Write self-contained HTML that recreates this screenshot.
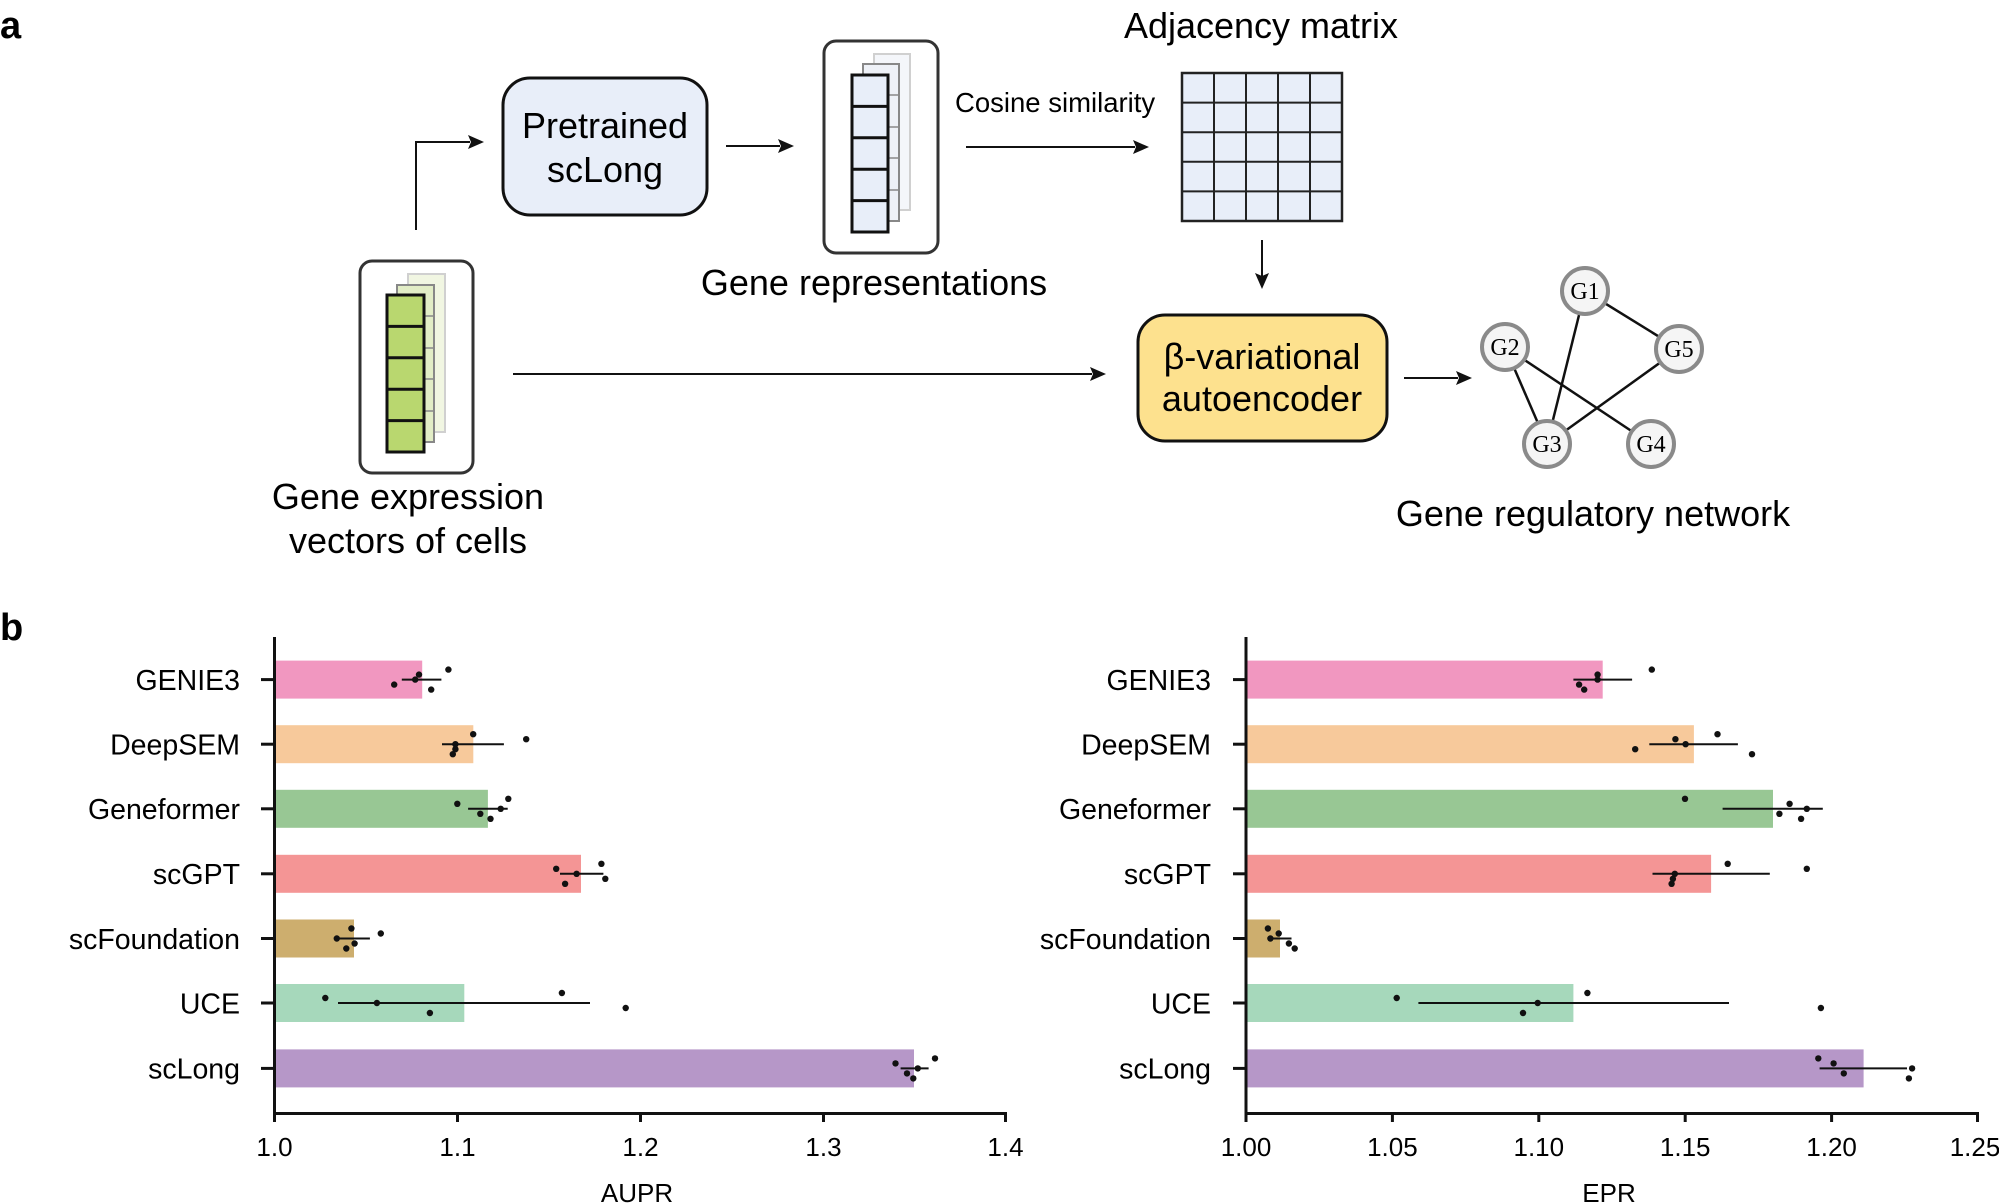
<!DOCTYPE html>
<html><head><meta charset="utf-8"><style>
html,body{margin:0;padding:0;background:#fff;overflow:hidden;}
svg{display:block;font-family:"Liberation Sans",Arial,sans-serif;}
</style></head><body>
<svg width="1999" height="1203" viewBox="0 0 1999 1203" xmlns="http://www.w3.org/2000/svg">
<rect width="1999" height="1203" fill="#fff"/>
<text x="0" y="38" font-size="38" font-weight="bold">a</text>
<text x="0" y="640" font-size="38" font-weight="bold">b</text>

<rect x="360" y="261" width="113" height="212" rx="12" fill="#fff" stroke="#333" stroke-width="3"/>
<rect x="408" y="274" width="37" height="158" fill="#f1f6e2" stroke="#d0d0d0" stroke-width="2"/>
<rect x="397" y="285" width="37" height="157" fill="#e2edc6" stroke="#888" stroke-width="2"/>
<g stroke="#888" stroke-width="1.5"><line x1="397" y1="316" x2="434" y2="316"/><line x1="397" y1="348" x2="434" y2="348"/><line x1="397" y1="379" x2="434" y2="379"/><line x1="397" y1="411" x2="434" y2="411"/></g>
<rect x="387" y="295" width="37" height="157" fill="#b9d76f" stroke="#111" stroke-width="3"/>
<g stroke="#111" stroke-width="3"><line x1="387" y1="326.4" x2="424" y2="326.4"/><line x1="387" y1="357.8" x2="424" y2="357.8"/><line x1="387" y1="389.2" x2="424" y2="389.2"/><line x1="387" y1="420.6" x2="424" y2="420.6"/></g>
<text x="408" y="509" font-size="36" text-anchor="middle">Gene expression</text>
<text x="408" y="553" font-size="36" text-anchor="middle">vectors of cells</text>

<polyline points="416,230 416,142 470,142" fill="none" stroke="#111" stroke-width="2"/>
<polygon points="484,142 468,135 471,142 468,149" fill="#111"/>

<rect x="503" y="78" width="204" height="137" rx="27" fill="#e8eef9" stroke="#111" stroke-width="3"/>
<text x="605" y="138" font-size="36" text-anchor="middle">Pretrained</text>
<text x="605" y="182" font-size="36" text-anchor="middle">scLong</text>

<line x1="726" y1="146" x2="780" y2="146" stroke="#111" stroke-width="2"/>
<polygon points="794,146 778,139 781,146 778,153" fill="#111"/>

<rect x="824" y="41" width="114" height="212" rx="12" fill="#fff" stroke="#333" stroke-width="3"/>
<rect x="874" y="54" width="36" height="156" fill="#f4f6fa" stroke="#d0d0d0" stroke-width="2"/>
<rect x="863" y="64" width="36" height="157" fill="#eef1f7" stroke="#888" stroke-width="2"/>
<g stroke="#888" stroke-width="1.5"><line x1="863" y1="95" x2="899" y2="95"/><line x1="863" y1="127" x2="899" y2="127"/><line x1="863" y1="158" x2="899" y2="158"/><line x1="863" y1="190" x2="899" y2="190"/></g>
<rect x="852" y="75" width="36" height="157" fill="#e8eef9" stroke="#111" stroke-width="3"/>
<g stroke="#111" stroke-width="3"><line x1="852" y1="106.4" x2="888" y2="106.4"/><line x1="852" y1="137.8" x2="888" y2="137.8"/><line x1="852" y1="169.2" x2="888" y2="169.2"/><line x1="852" y1="200.6" x2="888" y2="200.6"/></g>
<text x="874" y="295" font-size="36" text-anchor="middle">Gene representations</text>

<text x="955" y="112" font-size="27.5">Cosine similarity</text>
<line x1="966" y1="147" x2="1135" y2="147" stroke="#111" stroke-width="2"/>
<polygon points="1149,147 1133,140 1136,147 1133,154" fill="#111"/>

<line x1="513" y1="374" x2="1092" y2="374" stroke="#111" stroke-width="2"/>
<polygon points="1106,374 1090,367 1093,374 1090,381" fill="#111"/>

<text x="1261" y="38" font-size="36" text-anchor="middle">Adjacency matrix</text>
<rect x="1182" y="73" width="160" height="148" fill="#e8eef9" stroke="#222" stroke-width="2.5"/>
<g stroke="#222" stroke-width="2">
  <line x1="1214" y1="73" x2="1214" y2="221"/><line x1="1246" y1="73" x2="1246" y2="221"/><line x1="1278" y1="73" x2="1278" y2="221"/><line x1="1310" y1="73" x2="1310" y2="221"/>
  <line x1="1182" y1="102.6" x2="1342" y2="102.6"/><line x1="1182" y1="132.2" x2="1342" y2="132.2"/><line x1="1182" y1="161.8" x2="1342" y2="161.8"/><line x1="1182" y1="191.4" x2="1342" y2="191.4"/>
</g>
<line x1="1262" y1="240" x2="1262" y2="276" stroke="#111" stroke-width="2"/>
<polygon points="1262,289 1255,273 1262,276 1269,273" fill="#111"/>

<rect x="1138" y="315" width="249" height="126" rx="27" fill="#fde18e" stroke="#111" stroke-width="3"/>
<text x="1262" y="369" font-size="36" text-anchor="middle">β-variational</text>
<text x="1262" y="411" font-size="36" text-anchor="middle">autoencoder</text>

<line x1="1404" y1="378" x2="1458" y2="378" stroke="#111" stroke-width="2"/>
<polygon points="1472,378 1456,371 1459,378 1456,385" fill="#111"/>

<g stroke="#111" stroke-width="2.5">
  <line x1="1585" y1="291" x2="1679" y2="349"/>
  <line x1="1585" y1="291" x2="1547" y2="444"/>
  <line x1="1505" y1="347" x2="1547" y2="444"/>
  <line x1="1505" y1="347" x2="1651" y2="444"/>
  <line x1="1679" y1="349" x2="1547" y2="444"/>
</g>
<g fill="#f5f5f5" stroke="#8a8a8a" stroke-width="4">
  <circle cx="1585" cy="291" r="23"/><circle cx="1505" cy="347" r="23"/><circle cx="1679" cy="349" r="23"/><circle cx="1547" cy="444" r="23"/><circle cx="1651" cy="444" r="23"/>
</g>
<g font-family="Liberation Serif,serif" font-size="24" text-anchor="middle">
  <text x="1585" y="299">G1</text><text x="1505" y="355">G2</text><text x="1679" y="357">G5</text><text x="1547" y="452">G3</text><text x="1651" y="452">G4</text>
</g>
<text x="1593" y="526" font-size="36" text-anchor="middle">Gene regulatory network</text>

<!-- LEFT CHART -->
<g>
  <rect x="275" y="660.6" width="147.2" height="38" fill="#f197c0"/>
  <rect x="275" y="725.2" width="198.3" height="38" fill="#f7c99b"/>
  <rect x="275" y="789.8" width="212.9" height="38" fill="#98c794"/>
  <rect x="275" y="854.8" width="306" height="38" fill="#f49595"/>
  <rect x="275" y="919.5" width="79" height="38" fill="#cdae6e"/>
  <rect x="275" y="984" width="189.3" height="38" fill="#a6d8bb"/>
  <rect x="275" y="1049.4" width="639" height="38" fill="#b697c8"/>
</g>
<g stroke="#111" stroke-width="3" fill="none">
  <polyline points="274.5,637 274.5,1113.5 1007,1113.5"/>
  <line x1="274.5" y1="1113" x2="274.5" y2="1122"/><line x1="457.5" y1="1113" x2="457.5" y2="1122"/><line x1="640.5" y1="1113" x2="640.5" y2="1122"/><line x1="823.5" y1="1113" x2="823.5" y2="1122"/><line x1="1005.5" y1="1113" x2="1005.5" y2="1122"/>
  <line x1="261" y1="679.6" x2="274" y2="679.6"/><line x1="261" y1="744.2" x2="274" y2="744.2"/><line x1="261" y1="808.8" x2="274" y2="808.8"/><line x1="261" y1="873.8" x2="274" y2="873.8"/><line x1="261" y1="938.5" x2="274" y2="938.5"/><line x1="261" y1="1003" x2="274" y2="1003"/><line x1="261" y1="1068.4" x2="274" y2="1068.4"/>
</g>
<g font-size="28.5" text-anchor="end">
  <text x="240" y="690">GENIE3</text><text x="240" y="754.5">DeepSEM</text><text x="240" y="819">Geneformer</text><text x="240" y="884">scGPT</text><text x="240" y="949">scFoundation</text><text x="240" y="1013.5">UCE</text><text x="240" y="1078.5">scLong</text>
</g>
<g font-size="26" text-anchor="middle">
  <text x="274.5" y="1156">1.0</text><text x="457.5" y="1156">1.1</text><text x="640.5" y="1156">1.2</text><text x="823.5" y="1156">1.3</text><text x="1005.5" y="1156">1.4</text>
  <text x="637" y="1202">AUPR</text>
</g>
<g stroke="#111" stroke-width="2">
  <line x1="401.8" y1="679.6" x2="441.4" y2="679.6"/>
  <line x1="442" y1="744.2" x2="503.9" y2="744.2"/>
  <line x1="468.1" y1="808.8" x2="507.7" y2="808.8"/>
  <line x1="560" y1="873.8" x2="603.4" y2="873.8"/>
  <line x1="336.8" y1="938.5" x2="369.9" y2="938.5"/>
  <line x1="338" y1="1003" x2="590" y2="1003"/>
  <line x1="900.6" y1="1068.4" x2="928.6" y2="1068.4"/>
</g>
<g fill="#111">
  <circle cx="448.4" cy="669.6" r="3.2"/><circle cx="419" cy="674.6" r="3.2"/><circle cx="415.2" cy="679.6" r="3.2"/><circle cx="394.2" cy="684.6" r="3.2"/><circle cx="431.2" cy="689.6" r="3.2"/>
  <circle cx="473.2" cy="734.2" r="3.2"/><circle cx="526.2" cy="739.2" r="3.2"/><circle cx="455.4" cy="744.2" r="3.2"/><circle cx="455.4" cy="749.2" r="3.2"/><circle cx="452.8" cy="754.2" r="3.2"/>
  <circle cx="508.3" cy="798.8" r="3.2"/><circle cx="457.3" cy="803.8" r="3.2"/><circle cx="500.7" cy="808.8" r="3.2"/><circle cx="480.3" cy="813.8" r="3.2"/><circle cx="490.5" cy="818.8" r="3.2"/>
  <circle cx="601.4" cy="863.8" r="3.2"/><circle cx="556.2" cy="868.8" r="3.2"/><circle cx="576.6" cy="873.8" r="3.2"/><circle cx="605.3" cy="878.8" r="3.2"/><circle cx="565.1" cy="883.8" r="3.2"/>
  <circle cx="351.4" cy="928.5" r="3.2"/><circle cx="380.8" cy="933.5" r="3.2"/><circle cx="336.8" cy="938.5" r="3.2"/><circle cx="354.6" cy="943.5" r="3.2"/><circle cx="346.3" cy="948.5" r="3.2"/>
  <circle cx="561.9" cy="993" r="3.2"/><circle cx="325.3" cy="998" r="3.2"/><circle cx="376.9" cy="1003" r="3.2"/><circle cx="625.7" cy="1008" r="3.2"/><circle cx="429.9" cy="1013" r="3.2"/>
  <circle cx="935" cy="1058.4" r="3.2"/><circle cx="895.5" cy="1063.4" r="3.2"/><circle cx="917.8" cy="1068.4" r="3.2"/><circle cx="907" cy="1073.4" r="3.2"/><circle cx="913.3" cy="1078.4" r="3.2"/>
</g>

<!-- RIGHT CHART -->
<g>
  <rect x="1246.5" y="660.6" width="356.2" height="38" fill="#f197c0"/>
  <rect x="1246.5" y="725.2" width="447.4" height="38" fill="#f7c99b"/>
  <rect x="1246.5" y="789.8" width="526.5" height="38" fill="#98c794"/>
  <rect x="1246.5" y="854.8" width="464.6" height="38" fill="#f49595"/>
  <rect x="1246.5" y="919.5" width="33.5" height="38" fill="#cdae6e"/>
  <rect x="1246.5" y="984" width="326.9" height="38" fill="#a6d8bb"/>
  <rect x="1246.5" y="1049.4" width="617.1" height="38" fill="#b697c8"/>
</g>
<g stroke="#111" stroke-width="3" fill="none">
  <polyline points="1246,637 1246,1113.5 1979,1113.5"/>
  <line x1="1246" y1="1113" x2="1246" y2="1122"/><line x1="1392.4" y1="1113" x2="1392.4" y2="1122"/><line x1="1538.8" y1="1113" x2="1538.8" y2="1122"/><line x1="1685.2" y1="1113" x2="1685.2" y2="1122"/><line x1="1831.6" y1="1113" x2="1831.6" y2="1122"/><line x1="1977.5" y1="1113" x2="1977.5" y2="1122"/>
  <line x1="1233" y1="679.6" x2="1246" y2="679.6"/><line x1="1233" y1="744.2" x2="1246" y2="744.2"/><line x1="1233" y1="808.8" x2="1246" y2="808.8"/><line x1="1233" y1="873.8" x2="1246" y2="873.8"/><line x1="1233" y1="938.5" x2="1246" y2="938.5"/><line x1="1233" y1="1003" x2="1246" y2="1003"/><line x1="1233" y1="1068.4" x2="1246" y2="1068.4"/>
</g>
<g font-size="28.5" text-anchor="end">
  <text x="1211" y="690">GENIE3</text><text x="1211" y="754.5">DeepSEM</text><text x="1211" y="819">Geneformer</text><text x="1211" y="884">scGPT</text><text x="1211" y="949">scFoundation</text><text x="1211" y="1013.5">UCE</text><text x="1211" y="1078.5">scLong</text>
</g>
<g font-size="26" text-anchor="middle">
  <text x="1246" y="1156">1.00</text><text x="1392.4" y="1156">1.05</text><text x="1538.8" y="1156">1.10</text><text x="1685.2" y="1156">1.15</text><text x="1831.6" y="1156">1.20</text><text x="1975" y="1156">1.25</text>
  <text x="1609" y="1202">EPR</text>
</g>
<g stroke="#111" stroke-width="2">
  <line x1="1573.4" y1="679.6" x2="1632.1" y2="679.6"/>
  <line x1="1649.3" y1="744.2" x2="1737.9" y2="744.2"/>
  <line x1="1722.6" y1="808.8" x2="1822.8" y2="808.8"/>
  <line x1="1652.5" y1="873.8" x2="1769.8" y2="873.8"/>
  <line x1="1268.5" y1="938.5" x2="1291.5" y2="938.5"/>
  <line x1="1418.4" y1="1003" x2="1729" y2="1003"/>
  <line x1="1819.6" y1="1068.4" x2="1907" y2="1068.4"/>
</g>
<g fill="#111">
  <circle cx="1651.8" cy="669.6" r="3.2"/><circle cx="1597.6" cy="674.6" r="3.2"/><circle cx="1597.6" cy="679.6" r="3.2"/><circle cx="1579.1" cy="684.6" r="3.2"/><circle cx="1584.2" cy="689.6" r="3.2"/>
  <circle cx="1717.5" cy="734.2" r="3.2"/><circle cx="1675.4" cy="739.2" r="3.2"/><circle cx="1685.6" cy="744.2" r="3.2"/><circle cx="1635.2" cy="749.2" r="3.2"/><circle cx="1752" cy="754.2" r="3.2"/>
  <circle cx="1685" cy="798.8" r="3.2"/><circle cx="1789.6" cy="803.8" r="3.2"/><circle cx="1806.8" cy="808.8" r="3.2"/><circle cx="1779.4" cy="813.8" r="3.2"/><circle cx="1801.1" cy="818.8" r="3.2"/>
  <circle cx="1727.7" cy="863.8" r="3.2"/><circle cx="1806.8" cy="868.8" r="3.2"/><circle cx="1674.8" cy="873.8" r="3.2"/><circle cx="1672.9" cy="878.8" r="3.2"/><circle cx="1671.6" cy="883.8" r="3.2"/>
  <circle cx="1267.9" cy="928.5" r="3.2"/><circle cx="1278.7" cy="933.5" r="3.2"/><circle cx="1270.4" cy="938.5" r="3.2"/><circle cx="1288.9" cy="943.5" r="3.2"/><circle cx="1294.7" cy="948.5" r="3.2"/>
  <circle cx="1587.4" cy="993" r="3.2"/><circle cx="1396.7" cy="998" r="3.2"/><circle cx="1537.7" cy="1003" r="3.2"/><circle cx="1820.9" cy="1008" r="3.2"/><circle cx="1523" cy="1013" r="3.2"/>
  <circle cx="1818.3" cy="1058.4" r="3.2"/><circle cx="1833.6" cy="1063.4" r="3.2"/><circle cx="1912.1" cy="1068.4" r="3.2"/><circle cx="1843.8" cy="1073.4" r="3.2"/><circle cx="1908.9" cy="1078.4" r="3.2"/>
</g>
</svg>
</body></html>
